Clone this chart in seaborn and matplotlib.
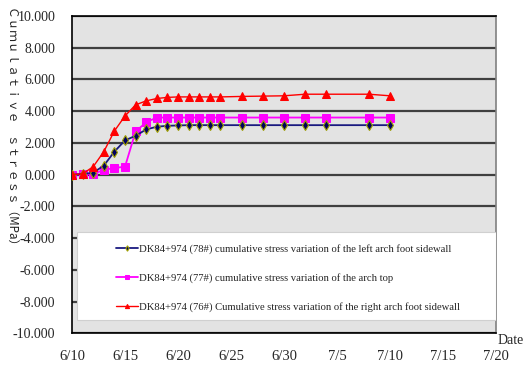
import matplotlib
matplotlib.use("Agg")
import matplotlib.pyplot as plt
from matplotlib.patches import Rectangle
import seaborn as sns
import pandas as pd

dates = ["6/10", "6/11", "6/12", "6/13", "6/14", "6/15", "6/16", "6/17", "6/18", "6/19",
         "6/20", "6/21", "6/22", "6/23", "6/24", "6/26", "6/28", "6/30", "7/2", "7/4",
         "7/8", "7/10"]
left_foot = [0.0, 0.04, 0.12, 0.57, 1.45, 2.16, 2.45, 2.85, 3.02, 3.08,
             3.1, 3.12, 3.12, 3.12, 3.12, 3.12, 3.12, 3.12, 3.12, 3.12,
             3.12, 3.12]
arch_top = [0.0, 0.04, 0.04, 0.3, 0.42, 0.5, 2.72, 3.3, 3.6, 3.6,
            3.6, 3.6, 3.6, 3.6, 3.6, 3.6, 3.6, 3.6, 3.6, 3.6,
            3.6, 3.6]
right_foot = [0.0, 0.05, 0.5, 1.45, 2.75, 3.7, 4.4, 4.65, 4.8, 4.87,
              4.9, 4.9, 4.9, 4.9, 4.9, 4.93, 4.95, 4.97, 5.07, 5.07,
              5.07, 4.97]
labels = ["DK84+974 (78#) cumulative stress variation of the left arch foot sidewall",
          "DK84+974 (77#) cumulative stress variation of the arch top",
          "DK84+974 (76#) Cumulative stress variation of the right arch foot sidewall"]
yticks = [-10, -8, -6, -4, -2, 0, 2, 4, 6, 8, 10]
xtick_labels = ["6/10", "6/15", "6/20", "6/25", "6/30", "7/5", "7/10", "7/15", "7/20"]

year = 2010
def to_dt(s):
    return pd.to_datetime(f"{year}/{s}", format="%Y/%m/%d")

x = [to_dt(d) for d in dates]
df = pd.DataFrame({"date": x, "left": left_foot, "top": arch_top, "right": right_foot})

sns.set_style("white")
plt.rcParams["font.family"] = ["Liberation Serif", "DejaVu Serif"]

fig = plt.figure(figsize=(5.23, 3.71), dpi=100)
ax = fig.add_axes([72/523, 1-333.3/371, (496-72)/523, (333.3-16)/371])
ax.set_facecolor("#E3E3E3")

sns.lineplot(data=df, x="date", y="left", ax=ax, color="#1a1a80", lw=1.3,
             marker="d", markersize=5, markerfacecolor="#000060",
             markeredgecolor="#a0a000", markeredgewidth=0.8, label=labels[0], zorder=4)
sns.lineplot(data=df, x="date", y="top", ax=ax, color="#FF00FF", lw=1.3,
             marker="s", markersize=5.2, markerfacecolor="#FF00FF",
             markeredgecolor="#FF00FF", label=labels[1], zorder=3)
sns.lineplot(data=df, x="date", y="right", ax=ax, color="#FF0000", lw=1.0,
             marker="^", markersize=5.5, markerfacecolor="#FF0000",
             markeredgecolor="#FF0000", label=labels[2], zorder=5)

ax.set_ylim(-10, 10)
ax.set_yticks(yticks)
ax.set_yticklabels([f"{v:.3f}" for v in yticks], fontsize=10)
xt = [to_dt(s) for s in xtick_labels]
ax.set_xlim(xt[0], xt[-1])
ax.set_xticks(xt)
ax.set_xticklabels(xtick_labels, fontsize=10.5)
ax.tick_params(axis="x", direction="in", length=4, width=0.8, color="black", pad=12)
ax.tick_params(axis="y", length=0, pad=12)
ax.yaxis.grid(True, color="#404040", lw=1.6)
ax.xaxis.grid(False)
ax.set_axisbelow(True)
ax.set_xlabel("")
ax.set_ylabel("")
for s in ["left", "bottom", "top"]:
    ax.spines[s].set_color("black")
    ax.spines[s].set_linewidth(1.2)
ax.spines["right"].set_color("#808080")
ax.spines["right"].set_linewidth(1.2)

# legend box
rect = Rectangle((0.012, 0.042), 0.988, 0.278, transform=ax.transAxes,
                 facecolor="white", edgecolor="#d0d0d0", lw=0.8, zorder=10)
ax.add_patch(rect)
leg = ax.legend(loc="upper left", bbox_to_anchor=(0.082, 0.312), frameon=False,
                fontsize=7.7, handlelength=2.0, handletextpad=0.1,
                labelspacing=1.8, markerscale=0.55)
leg.set_zorder(11)

fig.text(498/523, 1-340/371, "Date", fontsize=10, ha="left", va="center")
fig.text(12/523, 1-128/371, "Ｃｕｍｕｌａｔｉｖｅ　ｓｔｒｅｓｓ（MPa）", rotation=270,
         ha="center", va="center", fontsize=8.4,
         family=["Noto Sans CJK SC", "DejaVu Sans"], color="#202020")

fig.savefig("out.png", dpi=100, facecolor="white")
